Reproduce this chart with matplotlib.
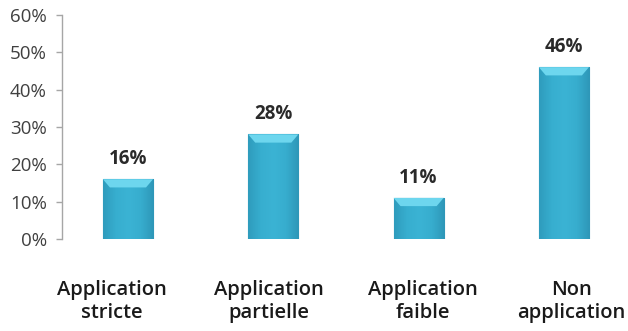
import numpy as np
import matplotlib
matplotlib.use("Agg")
import matplotlib.pyplot as plt
from matplotlib.patches import Polygon
from matplotlib.colors import LinearSegmentedColormap

categories = ["Application\nstricte", "Application\npartielle",
              "Application\nfaible", "Non\napplication"]
values = [0.16, 0.28, 0.11, 0.46]
value_labels = ["16%", "28%", "11%", "46%"]
yticks = [0.0, 0.1, 0.2, 0.3, 0.4, 0.5, 0.6]
ytick_labels = ["0%", "10%", "20%", "30%", "40%", "50%", "60%"]

plt.rcParams["font.family"] = ["Open Sans", "DejaVu Sans"]

fig = plt.figure(figsize=(6.28, 3.31), dpi=100)
ax = fig.add_axes([0.0987, 0.278, 0.901, 0.677])

x = np.arange(len(values))
width = 0.345
bars = ax.bar(x, values, width=width, color="#34a9ca", edgecolor="#2687a8",
              linewidth=0.8, zorder=2)

# soft shading inside each bar
shade = LinearSegmentedColormap.from_list(
    "shade", ["#2f9cbd", "#37aecf", "#3bb3d4", "#37adce", "#2e97b8"])
grad = np.linspace(0, 1, 64).reshape(1, -1)
for b in bars:
    bx, by = b.get_x(), b.get_y()
    bw, bh = b.get_width(), b.get_height()
    im = ax.imshow(grad, cmap=shade, aspect="auto", zorder=2.5,
                   extent=[bx, bx + bw, by, by + bh], interpolation="bicubic")
    im.set_clip_path(b)
    # bevelled light top
    inset = bw * 0.14
    depth = 0.022
    top = by + bh
    ax.add_patch(Polygon([[bx, top], [bx + bw, top],
                          [bx + bw - inset, top - depth], [bx + inset, top - depth]],
                         closed=True, facecolor="#6dd6ee", edgecolor="none",
                         zorder=3))

for xi, v, lab in zip(x, values, value_labels):
    ax.annotate(lab, (xi, v), xytext=(0, 11), textcoords="offset points",
                ha="center", va="baseline", fontsize=13.5, fontweight="bold",
                color="#2a2a2a")

# category names sit a little off the bar centres
label_x = [-0.11, 0.97, 2.03, 3.05]
for lx, cat in zip(label_x, categories):
    ax.text(lx, -0.11, cat, ha="center", va="top", fontsize=14.5,
            fontweight="semibold", color="#1a1a1a", linespacing=1.2)

ax.set_xlim(-0.454, 3.44)
ax.set_ylim(0, 0.6)
ax.set_xticks([])
ax.set_yticks(yticks)
ax.set_yticklabels(ytick_labels, fontsize=13.5, color="#404040")
ax.tick_params(axis="y", direction="out", length=4, width=1, color="#a6a6a6", pad=7)

for side in ["top", "right", "bottom"]:
    ax.spines[side].set_visible(False)
ax.spines["left"].set_color("#a6a6a6")
ax.spines["left"].set_linewidth(1)

fig.savefig("out.png", dpi=100)
